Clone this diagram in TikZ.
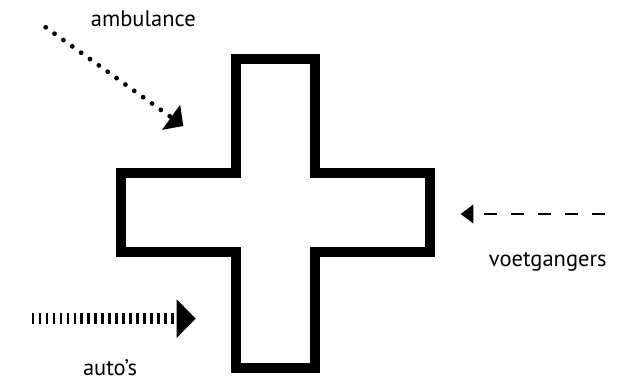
\documentclass[tikz,border=0pt]{standalone}
\usepackage{fontspec}
\setmainfont{PT Sans}
\usetikzlibrary{arrows.meta}
\begin{document}
\begin{tikzpicture}[x=1pt,y=-1pt,
  lbl/.style={anchor=base,inner sep=0pt,font=\fontsize{22.5}{25}\selectfont},
  crossline/.style={line width=10pt,line join=miter},
  dotarrow/.style={line width=4.8pt,line cap=round,dash pattern=on 0pt off 10.9pt,
    -{Triangle[length=15pt,width=31pt,line width=0pt]}},
  tickarrow/.style={line width=11pt,dash pattern=on 2.4pt off 4.57pt,
    -{Triangle[length=19pt,width=38.5pt,line width=0pt]}},
  dasharrow/.style={line width=2.2pt,dash pattern=on 13.5pt off 13.5pt,
    -{Triangle[length=12.6pt,width=19pt,line width=0pt]}}]
\useasboundingbox (0,0) rectangle (643,381);
% cross
\draw[crossline] (235.7,59) -- (315,59) -- (315,173.3) -- (430,173.3) -- (430,252.3)
  -- (315,252.3) -- (315,367.7) -- (235.7,367.7) -- (235.7,252.3) -- (121,252.3)
  -- (121,173.3) -- (235.7,173.3) -- cycle;
% arrows
\coordinate (ambS) at (45.7,27.3);
\coordinate (ambE) at (183.3,126);
\draw[dotarrow] (ambS) -- (ambE);
\coordinate (autS) at (31.7,318.6);
\coordinate (autE) at (195.7,318.6);
\draw[tickarrow] (autS) -- (autE);
\coordinate (voeS) at (605,214);
\coordinate (voeE) at (460.7,214);
\draw[dasharrow] (voeS) -- (voeE);
% labels
\node[lbl] (amb) at (143.3,26.7) {ambulance};
\node[lbl] (aut) at (110,375) {auto’s};
\node[lbl] (voe) at (547.8,266.7) {voetgangers};
\end{tikzpicture}
\end{document}
